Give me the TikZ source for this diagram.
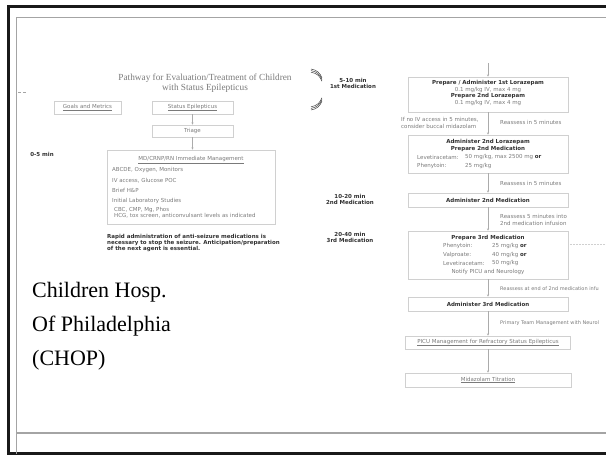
\documentclass[tikz,border=0pt]{standalone}
\usepackage{fontspec}
\setmainfont{Liberation Serif}
\newfontfamily\flowfont{DejaVu Sans}
\usetikzlibrary{arrows.meta}

\definecolor{framegrey}{HTML}{A4A4A4}
\definecolor{boxgrey}{HTML}{D0D0D0}
\definecolor{linegrey}{HTML}{ABABAB}
\definecolor{textgrey}{HTML}{7A7A7A}
\definecolor{darkgrey}{HTML}{303030}

\tikzset{
  flowbox/.style={draw=boxgrey, line width=0.7pt, minimum width=160pt, minimum height=14pt, inner sep=0pt,
    font=\flowfont\fontsize{5.5}{6.5}\selectfont, text=textgrey},
  flowtext/.style={inner sep=0pt, font=\flowfont\fontsize{5.5}{6.5}\selectfont, text=textgrey},
  flowbold/.style={inner sep=0pt, font=\flowfont\bfseries\fontsize{5.5}{6.7}\selectfont, text=darkgrey},
  flowarrow/.style={draw=linegrey, line width=0.6pt, -{Stealth[length=2.2pt,width=2.2pt]}},
}

\begin{document}
\begin{tikzpicture}[x=1pt,y=-1pt]
  \useasboundingbox (0,0) rectangle (606,457);

  % slide frame
  \draw [line width=3pt, black!90] (606,7) -- (8,7) -- (8,454) -- (606,454);
  \draw [line width=1.2pt, framegrey] (606,17.5) -- (16.5,17.5) -- (16.5,454);
  \draw [line width=1.2pt, framegrey] (16.5,433) -- (606,433);
  \draw [densely dashed, line width=0.4pt, framegrey] (18,92) -- (27,92);

  % left part of the pathway
  \node [inner sep=0pt, align=center, text=textgrey, font=\fontsize{9.3}{10}\selectfont] (title) at (205,83)
    {Pathway for Evaluation/Treatment of Children\\with Status Epilepticus};
  \node [flowbox, minimum width=67pt, minimum height=13pt] (goals) at (87.5,107.5) {\underline{Goals and Metrics}};
  \node [flowbox, minimum width=81pt, minimum height=13pt] (status) at (192.5,107.5) {\underline{Status Epilepticus}};
  \node [flowbox, minimum width=81pt, minimum height=12pt] (triage) at (192.5,131) {Triage};
  \node [flowbox, minimum width=168pt, minimum height=74pt] (immed) at (191,187) {};

  \node [flowtext] (immedhead) at (191,160) {\underline{MD/CRNP/RN Immediate Management}};
  \node [flowtext, anchor=west] (abcde) at (112,170) {ABCDE, Oxygen, Monitors};
  \node [flowtext, anchor=west] (ivaccess) at (112,180.5) {IV access, Glucose POC};
  \node [flowtext, anchor=west] (brief) at (112,190.5) {Brief H\&P};
  \node [flowtext, anchor=west] (labs) at (112,200.5) {Initial Laboratory Studies};
  \node [flowtext, anchor=west] (cbc) at (114,209.5) {CBC, CMP, Mg, Phos};
  \node [flowtext, anchor=west] (hcg) at (114,216) {HCG, tox screen, anticonvulsant levels as indicated};

  \node [flowbold, anchor=north west, align=left, font=\flowfont\bfseries\fontsize{5.5}{6.3}\selectfont] (rapid) at (107,234)
    {Rapid administration of anti-seizure medications is\\
     necessary to stop the seizure. Anticipation/preparation\\
     of the next agent is essential.};

  \draw [flowarrow] (status) -- (triage);
  \draw [flowarrow] (triage.south) -- (triage.south |- immed.north);

  % time labels
  \node [flowbold] (t0) at (42,154) {0-5 min};
  \node [flowbold, align=center] (t1) at (353,83.5) {5-10 min\\1st Medication};
  \node [flowbold, align=center] (t2) at (350,199.5) {10-20 min\\2nd Medication};
  \node [flowbold, align=center] (t3) at (350,237.5) {20-40 min\\3rd Medication};

  % pen marks next to the first time label
  \foreach \d in {0,1.6,3.2}
  {
    \draw [line width=0.5pt, black!75] (311,69+\d) .. controls (317,70+\d) and (320,73+\d) .. (322,78+\d);
    \draw [line width=0.5pt, black!75] (311,110-\d) .. controls (317,109-\d) and (320,106-\d) .. (322,101-\d);
  }

  % right part of the pathway
  \coordinate (topin) at (488,63);
  \node [flowbox, minimum height=35pt] (med1) at (488,94.5) {};
  \node [flowbold] (med1a) at (488,83) {Prepare / Administer 1st Lorazepam};
  \node [flowtext] (med1b) at (488,89.5) {0.1 mg/kg IV, max 4 mg};
  \node [flowbold] (med1c) at (488,96) {Prepare 2nd Lorazepam};
  \node [flowtext] (med1d) at (488,102.5) {0.1 mg/kg IV, max 4 mg};

  \node [flowbox, minimum height=38pt] (med2) at (488,154) {};
  \node [flowbold] (med2a) at (488,142) {Administer 2nd Lorazepam};
  \node [flowbold] (med2b) at (488,148.5) {Prepare 2nd Medication};
  \node [flowtext, anchor=west] (lev2) at (417,157) {Levetiracetam:};
  \node [flowtext, anchor=west] (lev2dose) at (465,157) {50 mg/kg, max 2500 mg \textcolor{darkgrey}{\bfseries or}};
  \node [flowtext, anchor=west] (phen2) at (417,166) {Phenytoin:};
  \node [flowtext, anchor=west] (phen2dose) at (465,166) {25 mg/kg};

  \node [flowbox] (adm2) at (488,200) {\textcolor{darkgrey}{\bfseries Administer 2nd Medication}};

  \node [flowbox, minimum height=48pt] (prep3) at (488,255) {};
  \node [flowbold] (prep3a) at (488,237.5) {Prepare 3rd Medication};
  \node [flowtext, anchor=west] (phen3) at (443,246) {Phenytoin:};
  \node [flowtext, anchor=west] (phen3dose) at (492,246) {25 mg/kg \textcolor{darkgrey}{\bfseries or}};
  \node [flowtext, anchor=west] (valp3) at (443,254.5) {Valproate:};
  \node [flowtext, anchor=west] (valp3dose) at (492,254.5) {40 mg/kg \textcolor{darkgrey}{\bfseries or}};
  \node [flowtext, anchor=west] (lev3) at (443,263) {Levetiracetam:};
  \node [flowtext, anchor=west] (lev3dose) at (492,263) {50 mg/kg};
  \node [flowtext] (notify) at (488,272) {Notify PICU and Neurology};

  \node [flowbox] (adm3) at (488,304) {\textcolor{darkgrey}{\bfseries Administer 3rd Medication}};
  \node [flowbox, minimum width=165pt, minimum height=13pt] (picu) at (488,342.5)
    {\underline{PICU Management for Refractory Status Epilepticus}};
  \node [flowbox, minimum width=166pt, minimum height=14pt] (mida) at (488,380) {\underline{Midazolam Titration}};

  \draw [flowarrow] (topin) -- (med1);
  \foreach \a/\b in {med1/med2, med2/adm2, adm2/prep3, prep3/adm3, adm3/picu, picu/mida}
  {
    \draw [flowarrow] (\a.south) -- (\b.north);
  }

  \coordinate (dotend) at (606,244);
  \draw [densely dotted, line width=0.5pt, boxgrey] (prep3.east |- dotend) -- (dotend);

  % side notes
  \node [flowtext, anchor=west, align=left] (noiv) at (401,123) {If no IV access in 5 minutes,\\consider buccal midazolam};
  \node [flowtext, anchor=west] (reass1) at (500,122) {Reassess in 5 minutes};
  \node [flowtext, anchor=west] (reass2) at (500,183) {Reassess in 5 minutes};
  \node [flowtext, anchor=west, align=left] (reass3) at (500,220) {Reassess 5 minutes into\\2nd medication infusion};
  \node [flowtext, anchor=west, font=\flowfont\fontsize{5}{6}\selectfont] (reass4) at (500,289) {Reassess at end of 2nd medication infu};
  \node [flowtext, anchor=west, font=\flowfont\fontsize{5}{6}\selectfont] (primary) at (500,323) {Primary Team Management with Neurol};

  % slide caption
  \node [anchor=west, align=left, inner sep=0pt, font=\fontsize{22}{34}\selectfont] (chop) at (32,326)
    {Children Hosp.\\Of Philadelphia\\(CHOP)};
\end{tikzpicture}
\end{document}
